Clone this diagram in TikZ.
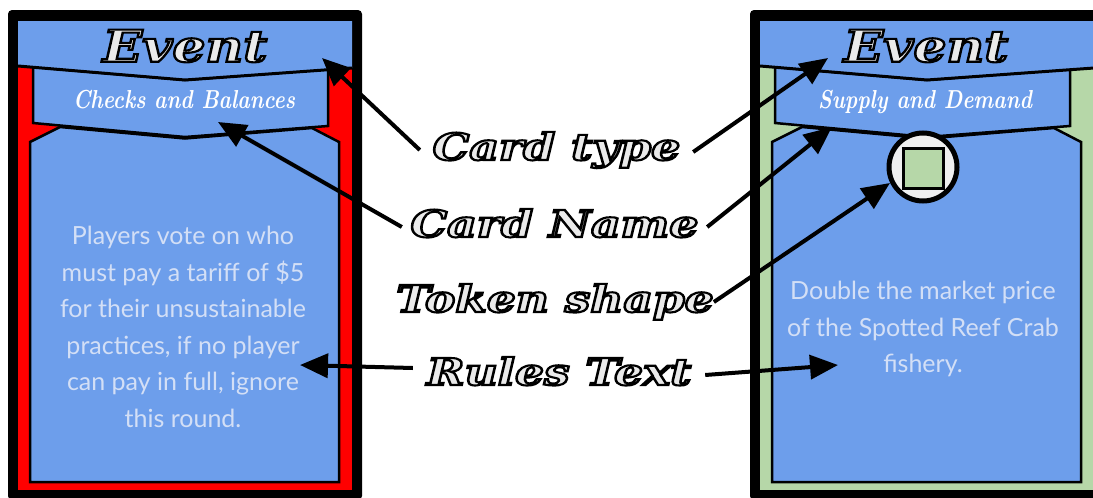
\documentclass[tikz,border=0pt]{standalone}
\usepackage{fontspec}
\usetikzlibrary{arrows.meta,calc}
\newfontfamily\fancyfont{DejaVu Serif}
\newfontfamily\bodyfont{Lato}

\definecolor{cardblue}{HTML}{6D9EEB}
\definecolor{cardred}{HTML}{FF0000}
\definecolor{cardgreen}{HTML}{B6D7A8}
\definecolor{tokengray}{HTML}{EFEFEF}
\definecolor{rulesink}{HTML}{D3DFF6}
\definecolor{glyphfill}{HTML}{EAEAEA}

% light lettering stroked with a black rim
\newcommand\rimtext[1]{%
  {\color{glyphfill}%
    \special{pdf:literal direct 0 0 0 RG 2 Tr 2.1 w}#1\special{pdf:literal direct 0 Tr}}}

% card body: frame, accent border, rules panel, name banner, type banner
\newcommand\drawcard[1]{%
  \fill[black, rounded corners=4] (8,10) rectangle (362,500);
  \fill[#1] (18,21) rectangle (352,490);
  \filldraw[fill=cardblue, draw=black, line width=2.5pt]
    (30,142) -- (60,127) -- (185,138.5) -- (312,128) -- (339,142)
    -- (339,482) -- (30,482) -- cycle;
  \filldraw[fill=cardblue, draw=black, line width=2.5pt]
    (33,67) -- (185,80) -- (328,69) -- (328,126) -- (185,137) -- (33,123) -- cycle;
  \fill[cardblue] (18,21) -- (352,21) -- (352,68) -- (185,80) -- (18,66) -- cycle;
  \draw[black, line width=3pt] (18,66) -- (185,80) -- (352,68);
}

\tikzset{
  pointer/.style={line width=4pt, -{Triangle[length=28pt,width=24pt]}},
  typetitle/.style={inner sep=0, font=\fancyfont\bfseries\itshape\fontsize{44}{44}\selectfont},
  nametitle/.style={inner sep=0, anchor=base, text=white, font=\bfseries\itshape\fontsize{26}{26}\selectfont},
  rulesbody/.style={inner sep=0, align=center, text=rulesink, font=\bodyfont\fontsize{25}{36.5}\selectfont},
  callout/.style={inner sep=0, text height=26pt, text depth=6pt,
    font=\fancyfont\bfseries\itshape\fontsize{37}{37}\selectfont},
}

\begin{document}
\begin{tikzpicture}[x=1pt, y=-1pt]
\useasboundingbox (0,0) rectangle (1093,498);
\clip (0,0) rectangle (1093,498);
\fill[white] (0,0) rectangle (1093,498);

% left card (red border)
\drawcard{cardred}
% right card (green border)
\begin{scope}[xshift=742pt]
  \drawcard{cardgreen}
\end{scope}

% token on the right card
\node[circle, draw=black, fill=tokengray, line width=5pt, minimum size=68pt, inner sep=0] (token) at (923,167) {};
\node[rectangle, draw=black, fill=cardgreen, line width=3pt, minimum size=40pt, inner sep=0] (tokensq) at (923,168) {};

% card texts
\node[typetitle] (evtL) at (185,46) {\scalebox{1.18}[1]{\rimtext{Event}}};
\node[typetitle] (evtR) at (926,46) {\scalebox{1.18}[1]{\rimtext{Event}}};
\node[nametitle] (nameL) at (184,108) {\scalebox{0.81}[1]{Checks and Balances}};
\node[nametitle] (nameR) at (925,108) {\scalebox{0.81}[1]{Supply and Demand}};
\node[rulesbody] (rulesL) at (183,327) {Players vote on who\\must pay a tariff of \$5\\for their unsustainable\\practices, if no player\\can pay in full, ignore\\this round.};
\node[rulesbody] (rulesR) at (923,329) {Double the market price\\of the Spotted Reef Crab\\fishery.};

% callout labels
\node[callout, minimum width=273pt] (ctype) at (556.5,150) {\scalebox{1.24}[1]{\rimtext{Card type}}};
\node[callout, minimum width=305pt] (cname) at (554.5,227) {\scalebox{1.24}[1]{\rimtext{Card Name}}};
\node[callout, minimum width=316pt] (tshape) at (555,302) {\scalebox{1.23}[1]{\rimtext{Token shape}}};
\node[callout, minimum width=292pt] (rtext) at (559,375) {\scalebox{1.23}[1]{\rimtext{Rules Text}}};

% arrow targets
\coordinate (typeL) at (322,58);
\coordinate (typeR) at (828,58);
\coordinate (cnameL) at (218,122);
\coordinate (cnameR) at (832,127);
\coordinate (tokenT) at (890,183);
\coordinate (rulesTL) at (300,365);
\coordinate (rulesTR) at (838,365);

\draw[pointer] (ctype.west) -- (typeL);
\draw[pointer] ([yshift=-2pt]ctype.east) -- (typeR);
\draw[pointer] (cname.west) -- (cnameL);
\draw[pointer] (cname.east) -- (cnameR);
\draw[pointer] (tshape.east) -- (tokenT);
\draw[pointer] ([yshift=7pt]rtext.west) -- (rulesTL);
\draw[pointer] (rtext.east) -- (rulesTR);
\end{tikzpicture}
\end{document}
